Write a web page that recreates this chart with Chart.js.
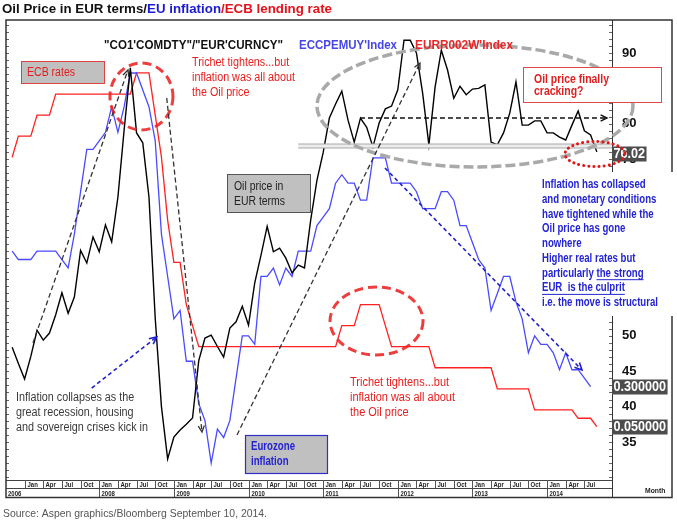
<!DOCTYPE html>
<html>
<head>
<meta charset="utf-8">
<script src="https://cdn.jsdelivr.net/npm/chart.js@4.4.1/dist/chart.umd.min.js"></script>
<style>
  html, body { margin: 0; padding: 0; background: #fff; }
  #wrap { position: relative; width: 677px; height: 521px; }
</style>
</head>
<body>
<div id="wrap"><canvas id="chart" width="677" height="521"></canvas></div>
<script>
// data - monthly, month index 0 = Jan 2007, first point Nov 2006

const firstMonth = -2;

// "CO1'COMDTY"/"EUR'CURNCY" - Brent in EUR
const oilEur = [
  48.4, 46.1,
  43.9, 47.1, 50.8, 49.4, 50.4, 53.0, 56.1, 53.2, 55.5, 62.1, 60.3, 64.0,
  61.9, 65.7, 63.3, 69.6, 79.1, 87.9, 78.7, 77.3, 69.6, 52.5, 40.0, 32.6,
  35.7, 36.7, 37.5, 38.4, 46.5, 49.7, 50.1, 48.5, 47.0, 51.1, 52.0, 54.2,
  51.5, 57.5, 61.4, 65.5, 61.9, 62.4, 61.0, 58.9, 60.0, 59.6, 66.4, 72.0,
  75.9, 80.8, 82.8, 84.6, 80.5, 77.4, 80.8, 79.5, 76.7, 80.1, 82.1, 82.5,
  84.8, 91.8, 91.8, 90.0, 84.3, 77.0, 85.2, 90.4, 87.6, 83.6, 85.3, 84.1,
  84.9, 85.0, 85.5, 77.4, 77.0, 78.7, 81.5, 85.9, 79.8, 79.8, 80.4, 80.4,
  78.7, 78.7, 78.1, 77.7, 79.8, 81.8, 79.0, 78.4, 76.02
];

// ECCPEMUY Index - eurozone CPI, % y/y
const euInflation = [
  1.9, 1.8,
  1.8, 1.8, 1.9, 1.9, 1.9, 1.9, 1.8, 1.7, 2.1, 2.6, 3.1, 3.1,
  3.2, 3.3, 3.6, 3.3, 3.6, 4.0, 4.0, 3.8, 3.6, 3.2, 2.1, 1.6,
  1.1, 1.2, 0.6, 0.6, 0.1, -0.1, -0.6, -0.2, -0.3, -0.1, 0.4, 0.9,
  0.9, 0.8, 1.6, 1.6, 1.7, 1.5, 1.7, 1.6, 1.9, 1.9, 1.9, 2.2,
  2.3, 2.4, 2.7, 2.8, 2.7, 2.7, 2.5, 2.5, 3.0, 3.0, 3.0, 2.7,
  2.7, 2.7, 2.7, 2.6, 2.4, 2.4, 2.4, 2.6, 2.6, 2.5, 2.2, 2.2,
  2.0, 1.8, 1.7, 1.2, 1.4, 1.6, 1.6, 1.3, 1.1, 0.7, 0.9, 0.8,
  0.8, 0.7, 0.5, 0.7, 0.5, 0.5, 0.4, 0.3
];

// EURR002W Index - ECB refi rate, %
const ecbRate = [
  3.25, 3.5,
  3.5, 3.5, 3.75, 3.75, 3.75, 4.0, 4.0, 4.0, 4.0, 4.0, 4.0, 4.0,
  4.0, 4.0, 4.0, 4.0, 4.0, 4.0, 4.25, 4.25, 4.25, 3.75, 3.25, 2.5,
  2.0, 2.0, 1.5, 1.25, 1.0, 1.0, 1.0, 1.0, 1.0, 1.0, 1.0, 1.0,
  1.0, 1.0, 1.0, 1.0, 1.0, 1.0, 1.0, 1.0, 1.0, 1.0, 1.0, 1.0,
  1.0, 1.0, 1.0, 1.25, 1.25, 1.25, 1.5, 1.5, 1.5, 1.5, 1.25, 1.0,
  1.0, 1.0, 1.0, 1.0, 1.0, 1.0, 0.75, 0.75, 0.75, 0.75, 0.75, 0.75,
  0.75, 0.75, 0.75, 0.75, 0.5, 0.5, 0.5, 0.5, 0.5, 0.5, 0.25, 0.25,
  0.25, 0.25, 0.25, 0.25, 0.25, 0.15, 0.15, 0.15, 0.05
];

const monthTicks = ["Jan", "Apr", "Jul", "Oct"];
const yearTicks = ["2006", "2008", "2009", "2010", "2011", "2012", "2013", "2014"];
const oilTicks = [35, 40, 45, 50, 55, 60, 65, 70, 75, 80, 85, 90];

// helpers

const FONT = "'Liberation Sans', Arial, sans-serif";

function toPoints(values) {
  return values.map((v, i) => ({ x: firstMonth + i, y: v }));
}

function label(ctx, s, x, y, font, color, sx) {
  ctx.save();
  ctx.font = font;
  ctx.fillStyle = color;
  ctx.textAlign = 'left';
  ctx.textBaseline = 'middle';
  ctx.translate(x, y);
  ctx.scale(sx || 1, 1);
  ctx.fillText(s, 0, 0);
  ctx.restore();
}

function fitScale(ctx, lines, font, width) {
  ctx.font = font;
  const w = Math.max(...lines.map(s => ctx.measureText(s).width));
  return width / w;
}

function block(ctx, lines, x, y0, step, font, color, width) {
  const sx = fitScale(ctx, lines, font, width);
  lines.forEach((s, i) => label(ctx, s, x, y0 + i * step, font, color, sx));
  return sx;
}

function box(ctx, x, y, w, h, fill, stroke, lw) {
  ctx.save();
  ctx.fillStyle = fill;
  ctx.fillRect(x, y, w, h);
  if (stroke) {
    ctx.strokeStyle = stroke;
    ctx.lineWidth = lw || 1;
    ctx.strokeRect(x + 0.5, y + 0.5, w - 1, h - 1);
  }
  ctx.restore();
}

function arrow(ctx, x1, y1, x2, y2, color, lw, dash, head) {
  ctx.save();
  ctx.strokeStyle = color;
  ctx.lineWidth = lw;
  ctx.setLineDash(dash);
  ctx.beginPath();
  ctx.moveTo(x1, y1);
  ctx.lineTo(x2, y2);
  ctx.stroke();
  if (head) {
    ctx.setLineDash([]);
    const ang = Math.atan2(y2 - y1, x2 - x1);
    ctx.beginPath();
    ctx.moveTo(x2 - head * Math.cos(ang - 0.45), y2 - head * Math.sin(ang - 0.45));
    ctx.lineTo(x2, y2);
    ctx.lineTo(x2 - head * Math.cos(ang + 0.45), y2 - head * Math.sin(ang + 0.45));
    ctx.stroke();
  }
  ctx.restore();
}

function ellipse(ctx, cx, cy, rx, ry, color, lw, dash, cap) {
  ctx.save();
  ctx.strokeStyle = color;
  ctx.lineWidth = lw;
  ctx.lineCap = cap || 'butt';
  ctx.setLineDash(dash);
  ctx.beginPath();
  ctx.ellipse(cx, cy, rx, ry, 0, 0, Math.PI * 2);
  ctx.stroke();
  ctx.restore();
}

function hline(ctx, x1, x2, y, color, lw) {
  ctx.save();
  ctx.strokeStyle = color;
  ctx.lineWidth = lw || 1;
  ctx.beginPath();
  ctx.moveTo(x1, y);
  ctx.lineTo(x2, y);
  ctx.stroke();
  ctx.restore();
}

function vline(ctx, x, y1, y2, color, lw) {
  ctx.save();
  ctx.strokeStyle = color;
  ctx.lineWidth = lw || 1;
  ctx.beginPath();
  ctx.moveTo(x, y1);
  ctx.lineTo(x, y2);
  ctx.stroke();
  ctx.restore();
}

// plugins

const whiteBackground = {
  id: 'whiteBackground',
  beforeDraw(chart) {
    const ctx = chart.ctx;
    ctx.save();
    ctx.fillStyle = '#fff';
    ctx.fillRect(0, 0, chart.width, chart.height);
    ctx.restore();
  }
};

const overlay = {
  id: 'overlay',
  afterDraw(chart) {
    const ctx = chart.ctx;
    const a = chart.chartArea;
    const x = chart.scales.x, yo = chart.scales.yOil;
    const yc = chart.scales.yCpi, ye = chart.scales.yEcb;
    const P = (m, v) => [x.getPixelForValue(m), yo.getPixelForValue(v)];
    const frameRight = 672, bandMid = 488.5, bandBottom = 497.5;

    // axis ticks (minor, every 1 EUR) left and right
    for (let v = Math.ceil(yo.min); v <= yo.max; v++) {
      const py = Math.round(yo.getPixelForValue(v)) + 0.5;
      hline(ctx, a.left, a.left + 3, py, '#666', 1);
      hline(ctx, a.right - 3, a.right, py, '#666', 1);
    }

    // x axis band
    hline(ctx, a.left, a.right, a.bottom + 0.5, '#444', 1);
    hline(ctx, a.left, a.right, bandMid, '#444', 1);
    vline(ctx, a.right + 0.5, a.top, bandBottom, '#333', 1);
    const small = `bold 7.5px ${FONT}`;
    for (let yr = 2007; yr <= 2014; yr++) {
      monthTicks.forEach((lab, q) => {
        const px = Math.round(x.getPixelForValue((yr - 2007) * 12 + q * 3)) + 0.5;
        if (px > a.right - 12) return;
        vline(ctx, px, a.bottom, bandMid, '#555', 1);
        label(ctx, lab, px + 2, (a.bottom + bandMid) / 2 + 0.5, small, '#222', 0.8);
      });
    }
    yearTicks.forEach((lab, i) => {
      const m = (parseInt(lab, 10) - 2007) * 12;
      const px = i === 0 ? a.left : Math.round(x.getPixelForValue(m)) + 0.5;
      if (i > 0) vline(ctx, px, bandMid, bandBottom, '#555', 1);
      label(ctx, lab, px + 2, (bandMid + bandBottom) / 2 + 0.5, small, '#222', 0.8);
    });
    label(ctx, 'Month', 645, 491, `bold 8px ${FONT}`, '#222', 0.85);

    // outer frame
    ctx.save();
    ctx.strokeStyle = '#333';
    ctx.lineWidth = 1.5;
    ctx.strokeRect(a.left, a.top, frameRight - a.left, bandBottom - a.top);
    ctx.restore();

    // last value tags
    const tagFont = `bold 14px ${FONT}`;
    const tag = (txt, py) => {
      ctx.font = tagFont;
      const w = ctx.measureText(txt).width * 0.9;
      box(ctx, a.right, Math.round(py) - 7.5, w + 3, 15, '#4d4d4d');
      label(ctx, txt, a.right + 1.5, Math.round(py) + 0.5, tagFont, '#fff', 0.9);
    };
    tag(oilEur[oilEur.length - 1].toFixed(2), yo.getPixelForValue(oilEur[oilEur.length - 1]) + 2);
    tag(euInflation[euInflation.length - 1].toFixed(6), yc.getPixelForValue(euInflation[euInflation.length - 1]));
    tag(ecbRate[ecbRate.length - 1].toFixed(6), ye.getPixelForValue(ecbRate[ecbRate.length - 1]));

    // support line under the oil price
    const sl = P(44, 76.85);
    ctx.save();
    ctx.fillStyle = '#ececec';
    ctx.fillRect(sl[0], sl[1] - 2, a.right - sl[0], 4);
    ctx.restore();
    hline(ctx, sl[0], a.right, sl[1] - 2, '#a8a8a8', 1);
    hline(ctx, sl[0], a.right, sl[1] + 2, '#a8a8a8', 1);

    // big grey range ellipse
    const ge = P(72.41, 82.51);
    ellipse(ctx, ge[0], ge[1], 158, 61, '#a9a9a9', 3.5, [10, 4]);

    // red circles
    const r1 = P(18.79, 83.85);
    ellipse(ctx, r1[0], r1[1], 31.5, 33.5, 'rgba(235,40,40,0.9)', 3, [9, 5]);
    const r2 = P(56.58, 52.11);
    ellipse(ctx, r2[0], r2[1], 46.5, 34, 'rgba(235,40,40,0.9)', 3, [9, 5]);
    const r3 = P(91.7, 75.72);
    ellipse(ctx, r3[0], r3[1], 30, 12.5, '#e01818', 3, [0.1, 5], 'round');

    // dashed arrows (black)
    const dk = '#333';
    let s = P(1.35, 49.0), e = P(16.62, 87.6);
    arrow(ctx, s[0], s[1], e[0], e[1], dk, 1.3, [5, 3], 7);
    s = P(22.85, 83.64); e = P(28.52, 36.41);
    arrow(ctx, s[0], s[1], e[0], e[1], dk, 1.3, [5, 3], 7);
    s = P(34.15, 35.99); e = P(63.57, 88.59);
    arrow(ctx, s[0], s[1], e[0], e[1], dk, 1.3, [5, 3], 7);
    s = P(53.92, 80.81); e = P(93.63, 80.81);
    arrow(ctx, s[0], s[1], e[0], e[1], '#111', 1.4, [5, 3], 7);

    // dashed arrows (blue)
    s = P(10.79, 42.63); e = P(21.24, 49.85);
    arrow(ctx, s[0], s[1], e[0], e[1], '#2020d0', 1.6, [4, 3], 8);
    s = P(57.94, 73.74); e = P(89.61, 45.18);
    arrow(ctx, s[0], s[1], e[0], e[1], '#2020c8', 1.6, [4, 3], 8);

    // title
    const tFont = `bold 13.5px ${FONT}`;
    const titleParts = [["Oil Price in EUR terms/", '#111'], ["EU inflation", '#1a1ad6'], ["/ECB lending rate", '#e3121b']];
    const tScale = fitScale(ctx, [titleParts.map(p => p[0]).join('')], tFont, 330);
    let tx = 2;
    titleParts.forEach(p => {
      label(ctx, p[0], tx, 9, tFont, p[1], tScale);
      ctx.font = tFont;
      tx += ctx.measureText(p[0]).width * tScale;
    });

    // series names
    const hFont = `bold 13px ${FONT}`;
    block(ctx, ["\"CO1'COMDTY\"/\"EUR'CURNCY\""], 104, 45, 0, hFont, '#111', 179);
    block(ctx, ["ECCPEMUY'Index"], 299, 45, 0, hFont, '#4646e6', 98);
    block(ctx, ["EURR002W'Index"], 415, 45, 0, hFont, '#e82828', 98);

    const reg = `12.5px ${FONT}`;
    const bold12 = `bold 12px ${FONT}`;

    // ECB rates box
    box(ctx, 21, 61, 84, 23, '#c0c0c0', '#e04040', 1);
    block(ctx, ["ECB rates"], 27, 72.5, 0, reg, '#e02020', 48);

    // Trichet notes
    const trichet = ["Trichet tightens...but", "inflation was all about", "the Oil price"];
    block(ctx, trichet, 192, 63, 15, reg, '#e82020', 103);
    block(ctx, trichet, 350, 383, 15, reg, '#e82020', 105);

    // oil price box
    box(ctx, 227, 174, 84, 39, '#c0c0c0', '#555', 1);
    block(ctx, ["Oil price in", "EUR terms"], 234, 187, 15, reg, '#222', 51);

    // eurozone inflation box
    box(ctx, 245, 435, 83, 39, '#c0c0c0', '#3030c8', 1.2);
    block(ctx, ["Eurozone", "inflation"], 251, 447, 15, `bold 12.5px ${FONT}`, '#2323d0', 44);

    // recession note
    block(ctx, ["Inflation collapses as the", "great recession, housing", "and sovereign crises kick in"],
      16, 398, 14.8, reg, '#3a3a3a', 132);

    // cracking box
    box(ctx, 523, 67, 139, 36, '#fff', '#e04848', 1);
    block(ctx, ["Oil price finally", "cracking?"], 534, 79.5, 12, bold12, '#e02020', 75);

    // conclusion text on white
    box(ctx, 538, 172, 139, 144, '#fff');
    const concl = ["Inflation has collapsed", "and monetary conditions", "have tightened while the",
      "Oil price has gone", "nowhere", "Higher real rates but", "particularly the strong",
      "EUR  is the culprit", "i.e. the move is structural"];
    const blue = '#2424d2';
    const cs = block(ctx, concl, 542, 185, 14.7, bold12, blue, 116);
    ctx.font = bold12;
    const u0 = 542 + ctx.measureText("particularly ").width * cs;
    const u1 = 542 + ctx.measureText("particularly the strong").width * cs;
    hline(ctx, u0, u1, 185 + 6 * 14.7 + 6.5, blue, 1);
    hline(ctx, 542, 542 + ctx.measureText("EUR  is the culprit").width * cs, 185 + 7 * 14.7 + 6.5, blue, 1);

    // source
    block(ctx, ["Source: Aspen graphics/Bloomberg September 10, 2014."], 3, 514, 0, `11px ${FONT}`, '#555', 264);
  }
};

// chart

new Chart(document.getElementById('chart'), {
  type: 'line',
  data: {
    datasets: [
      {
        label: "CO1'COMDTY/EUR'CURNCY",
        data: toPoints(oilEur),
        yAxisID: 'yOil',
        borderColor: '#000',
        borderWidth: 1.4
      },
      {
        label: "ECCPEMUY'Index",
        data: toPoints(euInflation),
        yAxisID: 'yCpi',
        borderColor: '#4a4aff',
        borderWidth: 1.3
      },
      {
        label: "EURR002W'Index",
        data: toPoints(ecbRate),
        yAxisID: 'yEcb',
        borderColor: '#ff2020',
        borderWidth: 1.3
      }
    ]
  },
  options: {
    responsive: false,
    animation: false,
    devicePixelRatio: 1,
    layout: { padding: { left: 6, top: 20, right: 5, bottom: 41 } },
    elements: {
      point: { radius: 0, hoverRadius: 0 },
      line: { tension: 0, fill: false }
    },
    plugins: {
      legend: { display: false },
      tooltip: { enabled: false }
    },
    scales: {
      x: { type: 'linear', min: -2.99, max: 94.44, display: false },
      yOil: {
        type: 'linear',
        position: 'right',
        min: 29.627,
        max: 94.666,
        grid: { display: false },
        border: { display: true, color: '#333', width: 1 },
        ticks: {
          autoSkip: false,
          padding: 2,
          color: '#111',
          font: { family: FONT, size: 13, weight: 'bold' }
        },
        afterBuildTicks: scale => { scale.ticks = oilTicks.map(v => ({ value: v })); },
        afterFit: scale => { scale.width = 60; }
      },
      yCpi: { type: 'linear', display: false, min: -0.8005, max: 4.625 },
      yEcb: { type: 'linear', display: false, min: -0.583, max: 4.879 }
    }
  },
  plugins: [whiteBackground, overlay]
});
</script>
</body>
</html>
